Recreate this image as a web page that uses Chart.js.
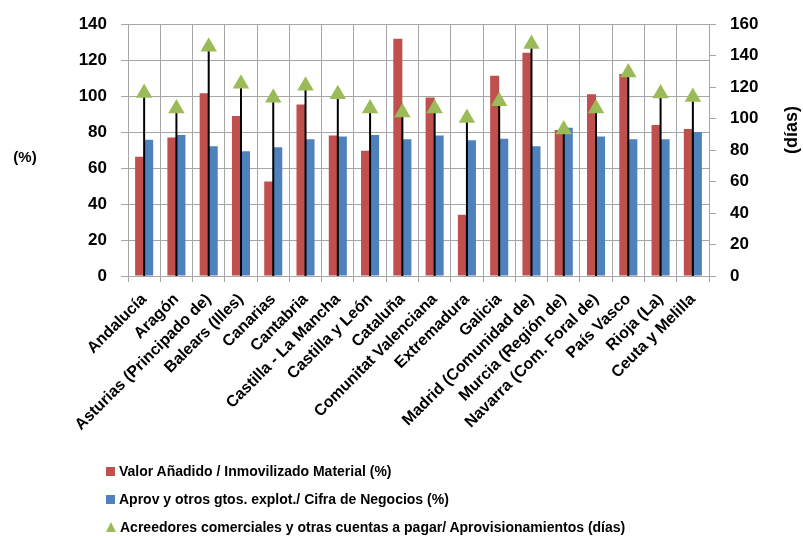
<!DOCTYPE html>
<html>
<head>
<meta charset="utf-8">
<script src="https://cdn.jsdelivr.net/npm/chart.js@4/dist/chart.umd.min.js"></script>
<style>
    body { margin: 0; background: #fff; }
    #wrap { position: relative; width: 803px; height: 536px; }
    #leyenda { position: absolute; left: 106px; top: 457px; font: bold 14px "Liberation Sans", Arial, sans-serif; color: #000; }
    #leyenda div { height: 28px; line-height: 28px; white-space: nowrap; }
    #leyenda span.m { display: inline-block; width: 9px; height: 9px; margin-right: 4px; vertical-align: 0px; }
    #leyenda span.t { display: inline-block; width: 0; height: 0; margin-right: 4px;
        border-left: 5px solid transparent; border-right: 5px solid transparent; border-bottom: 10px solid #9BBB59; }
</style>
</head>
<body>
<div id="wrap">
    <canvas id="myChart" width="803" height="536"></canvas>
    <div id="leyenda"></div>
</div>
<script>
// comunidades autonomas
const comunidades = [
    "Andalucía", "Aragón", "Asturias (Principado de)", "Balears (Illes)", "Canarias",
    "Cantabria", "Castilla - La Mancha", "Castilla y León", "Cataluña",
    "Comunitat Valenciana", "Extremadura", "Galicia", "Madrid (Comunidad de)",
    "Murcia (Región de)", "Navarra (Com. Foral de)", "País Vasco", "Rioja (La)", "Ceuta y Melilla"
];
// valor añadido / inmovilizado material (%)
const valorAnadido = [66.3, 77.0, 101.6, 88.9, 52.5, 95.3, 78.1, 69.7, 131.9, 99.3, 34.1, 111.4, 124.1, 81.2, 101.1, 112.3, 83.9, 81.7];
// aprov y otros gastos / cifra de negocios (%)
const aprovGastos = [75.7, 78.4, 72.1, 69.4, 71.6, 76.1, 77.5, 78.4, 76.1, 78.1, 75.5, 76.3, 72.1, 82.4, 77.5, 76.1, 76.1, 80.1];
// acreedores comerciales / aprovisionamientos (dias)
const acreedoresDias = [116.3, 106.4, 145.7, 122.1, 113.2, 120.9, 115.5, 106.4, 103.9, 106.4, 100.4, 111.1, 147.4, 93.1, 106.4, 129.3, 115.9, 113.8];

const etiquetas = [
    "Valor Añadido / Inmovilizado Material (%)",
    "Aprov y otros gtos. explot./ Cifra de Negocios (%)",
    "Acreedores comerciales y otras cuentas a pagar/ Aprovisionamientos (días)"
];

const ROJO = "#C0504D", AZUL = "#4F81BD", VERDE = "#9BBB59", REJILLA = "#A6A6A6";
const fuente = "'Liberation Sans', Arial, sans-serif";

// lineas verticales desde cada triangulo hasta el eje
const lineasCaida = {
    id: "lineasCaida",
    beforeDatasetDraw(chart, args) {
        if (args.index !== 2) return;
        const ctx = chart.ctx;
        const base = chart.scales.y2.getPixelForValue(0);
        ctx.save();
        ctx.strokeStyle = "#000";
        ctx.lineWidth = 2;
        args.meta.data.forEach((p) => {
            ctx.beginPath();
            ctx.moveTo(p.x, p.y);
            ctx.lineTo(p.x, base);
            ctx.stroke();
        });
        ctx.restore();
    },
};

// titulos de los ejes: (%) horizontal y (días) girado
const titulosEjes = {
    id: "titulosEjes",
    afterDraw(chart) {
        const ctx = chart.ctx;
        const area = chart.chartArea;
        ctx.save();
        ctx.fillStyle = "#000";
        ctx.textAlign = "center";
        ctx.textBaseline = "middle";
        ctx.font = "bold 15px " + fuente;
        ctx.fillText("(%)", 25, (area.top + area.bottom) / 2 + 8);
        ctx.font = "bold 18px " + fuente;
        ctx.translate(792, (area.top + area.bottom) / 2 - 20);
        ctx.rotate(-Math.PI / 2);
        ctx.fillText("(días)", 0, 0);
        ctx.restore();
    },
};

const ctx = document.getElementById("myChart");
const grafico = new Chart(ctx, {
    data: {
        labels: comunidades,
        datasets: [
            {
                type: "bar",
                label: etiquetas[0],
                data: valorAnadido,
                backgroundColor: ROJO,
                yAxisID: "y",
                order: 2,
            },
            {
                type: "bar",
                label: etiquetas[1],
                data: aprovGastos,
                backgroundColor: AZUL,
                yAxisID: "y",
                order: 2,
            },
            {
                type: "line",
                label: etiquetas[2],
                data: acreedoresDias,
                showLine: false,
                pointStyle: "triangle",
                pointRadius: 9.5,
                pointHoverRadius: 9.5,
                backgroundColor: VERDE,
                borderColor: VERDE,
                borderWidth: 0,
                yAxisID: "y2",
                order: 1,
            },
        ],
    },
    options: {
        responsive: false,
        animation: false,
        events: [],
        layout: { padding: { top: 18, left: 0, right: 0, bottom: 0 } },
        datasets: {
            bar: { categoryPercentage: 0.56, barPercentage: 1 },
        },
        scales: {
            x: {
                grid: { offset: true, color: REJILLA, lineWidth: 1, tickLength: 6 },
                border: { color: REJILLA },
                ticks: {
                    autoSkip: false,
                    maxRotation: 45,
                    minRotation: 45,
                    color: "#000",
                    padding: 8,
                    font: { family: fuente, size: 16, weight: "bold" },
                },
                afterFit: (s) => { s.height = 260; },
            },
            y: {
                position: "left",
                min: 0,
                max: 140,
                grid: { color: REJILLA, lineWidth: 1, tickLength: 7 },
                border: { color: REJILLA },
                ticks: {
                    stepSize: 20,
                    padding: 14,
                    color: "#000",
                    font: { family: fuente, size: 17, weight: "bold" },
                },
                afterFit: (s) => { s.width = 128; },
            },
            y2: {
                position: "right",
                min: 0,
                max: 160,
                grid: { drawOnChartArea: false, color: REJILLA, tickLength: 7 },
                border: { color: REJILLA },
                ticks: {
                    stepSize: 20,
                    padding: 14,
                    color: "#000",
                    font: { family: fuente, size: 17, weight: "bold" },
                },
                afterFit: (s) => { s.width = 94; },
            },
        },
        plugins: {
            legend: { display: false },
            tooltip: { enabled: false },
        },
    },
    plugins: [lineasCaida, titulosEjes],
});

// leyenda en html, una fila por serie
const leyenda = document.getElementById("leyenda");
grafico.data.datasets.forEach((ds, i) => {
    const fila = document.createElement("div");
    const marca = document.createElement("span");
    if (i === 2) {
        marca.className = "t";
    } else {
        marca.className = "m";
        marca.style.background = ds.backgroundColor;
    }
    fila.appendChild(marca);
    fila.appendChild(document.createTextNode(ds.label));
    leyenda.appendChild(fila);
});
</script>
</body>
</html>
